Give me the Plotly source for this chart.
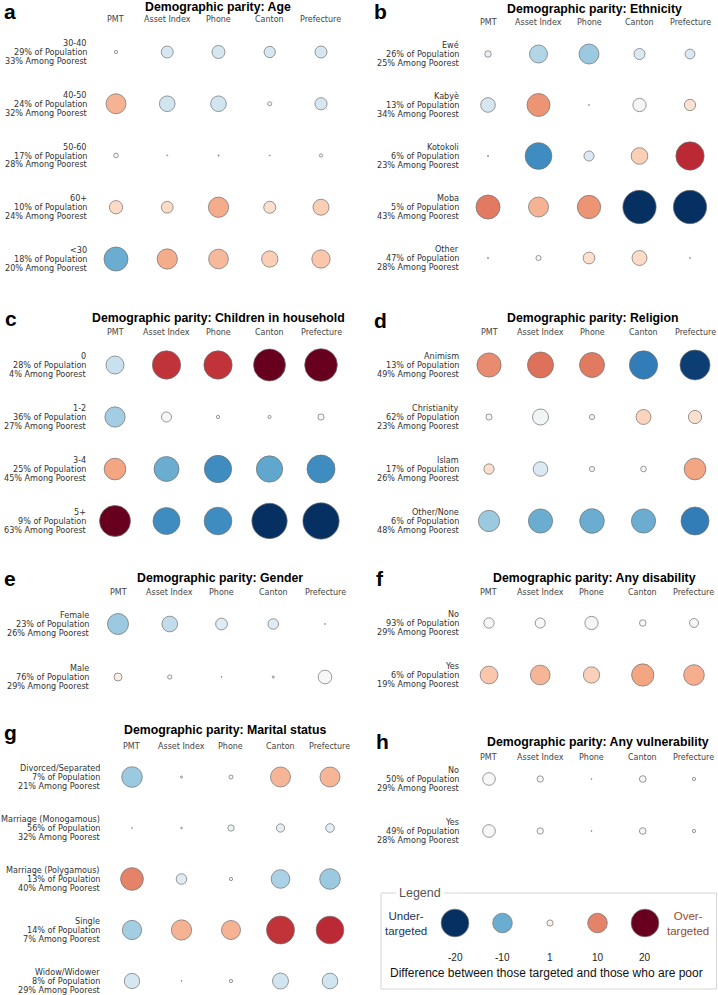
import numpy as np
import plotly.graph_objects as go
import plotly.express as px

W, H = 718, 995

methods = ["PMT", "Asset Index", "Phone", "Canton", "Prefecture"]

# --- a: Age ---
age_groups = ["30-40", "40-50", "50-60", "60+", "<30"]
age_pop = [29, 24, 17, 10, 18]
age_poor = [33, 32, 28, 24, 20]
age_gap = [[0.2, -2.7, -3.2, -2.4, -2.7],
           [7.5, -4.6, -4.6, 0.3, -2.8],
           [0.4, 0.02, 0.03, 0.0, 0.2],
           [3.3, 2.6, 7.7, 2.7, 4.8],
           [-10.8, 7.7, 7.3, 5.0, 6.3]]
age_tone = [[0, -3.5, -3.5, -3.5, -3.5],
            [7, -4, -4, 0, -3.5],
            [0, 0, 0, 0, 0],
            [4, 4, 7.5, 3.5, 5],
            [-10, 7.5, 6.5, 5, 5.5]]

# --- b: Ethnicity ---
eth_groups = ["Ewé", "Kabyè", "Kotokoli", "Moba", "Other"]
eth_pop = [26, 13, 6, 5, 47]
eth_poor = [25, 34, 23, 43, 28]
eth_gap = [[-0.8, -6.1, -7.5, -2.3, -1.8],
           [-4.0, 9.9, 0.02, -3.3, 2.4],
           [0.03, -13.4, -1.9, 5.2, 15.0],
           [10.8, 7.5, 10.2, -20.8, -20.8],
           [0.03, 0.5, 2.6, 4.2, 0.02]]
eth_tone = [[-1.5, -6, -7.5, -3, -3],
            [-3.5, 9, 0, -0.3, 3],
            [0, -12.5, -3, 5, 15],
            [10.5, 7, 9, -20, -20],
            [0, 0, 3.5, 4, 0]]

# --- c: Children in household ---
kid_groups = ["0", "1-2", "3-4", "5+"]
kid_pop = [28, 36, 25, 9]
kid_poor = [4, 27, 45, 63]
kid_gap = [[-6.1, 15.0, 15.0, 19.2, 20.0],
           [-7.7, 1.9, 0.2, 0.2, 0.7],
           [8.8, -11.7, -14.0, -13.0, -14.7],
           [18.0, -13.7, -14.4, -23.4, -24.7]]
kid_tone = [[-4.5, 14.5, 14.5, 20, 20],
            [-7, 0, 0, 0, 0],
            [8, -10, -12.5, -10.5, -12.5],
            [20, -12.5, -12.5, -20, -20]]

# --- d: Religion ---
rel_groups = ["Animism", "Christianity", "Islam", "Other/None"]
rel_pop = [13, 62, 17, 6]
rel_poor = [49, 23, 26, 48]
rel_gap = [[11.0, 12.7, 11.7, -15.0, -16.9],
           [-0.7, -4.8, 0.5, 4.2, 3.3],
           [2.0, -4.0, 0.5, 0.6, 8.8],
           [-8.5, -11.0, -11.4, -11.0, -14.7]]
rel_tone = [[9.5, 11, 10.5, -14, -19],
            [-0.5, -0.5, 0, 4.5, 3.5],
            [3.5, -3, 0, 0, 8],
            [-7.5, -10, -10, -10, -14]]

# --- e: Gender ---
sex_groups = ["Female", "Male"]
sex_pop = [23, 76]
sex_poor = [26, 29]
sex_gap = [[-8.3, -4.6, -2.6, -2.1, -0.02],
           [1.2, 0.35, 0.02, 0.08, -3.5]]
sex_tone = [[-7.5, -5, -2.5, -2.5, 0],
            [1.5, 0, 0, 0, 0]]

# --- f: Any disability ---
dis_groups = ["No", "Yes"]
dis_pop = [93, 6]
dis_poor = [29, 19]
dis_gap = [[-2.0, -1.9, -3.3, -0.8, -1.5],
           [5.9, 7.3, 5.0, 9.3, 8.0]]
dis_tone = [[0, 0, -0.3, 0, 0],
            [5.5, 6.8, 4.8, 8, 7.3]]

# --- g: Marital status ---
mar_groups = ["Divorced/Separated", "Marriage (Monogamous)", "Marriage (Polygamous)",
              "Single", "Widow/Widower"]
mar_pop = [7, 56, 13, 14, 8]
mar_poor = [21, 32, 40, 7, 29]
mar_gap = [[-8.0, 0.08, 0.3, 7.5, 7.5],
           [0.02, 0.05, -0.75, -1.3, -1.4],
           [9.7, -2.1, 0.2, -6.5, -8.0],
           [-7.0, 7.7, 6.8, 14.7, 14.4],
           [-4.4, 0.02, 0.2, -4.8, -4.6]]
mar_tone = [[-7.5, 0, 0, 6.8, 6.8],
            [0, 0, -1, -2, -2],
            [10, -2.5, 0, -6.5, -7.5],
            [-7, 7, 7, 14.5, 15],
            [-3.5, 0, 0, -4, -4]]

# --- h: Any vulnerability ---
vul_groups = ["No", "Yes"]
vul_pop = [50, 49]
vul_poor = [29, 28]
vul_gap = [[-3.0, 0.75, 0.02, 0.84, 0.2],
           [-3.0, 0.75, 0.02, -0.84, 0.2]]
vul_tone = [[0, 0.3, 0, 0.3, 0],
            [0, 0, 0, -0.3, 0]]

# --- legend ---
legend_values = [-20, -10, 1, 10, 20]

scale = px.colors.diverging.RdBu[::-1]
LABEL_FONT = "DejaVu Sans, sans-serif"
TITLE_FONT = "Liberation Sans, Arial, sans-serif"
LINE_STEP = 8.8  # px between the three lines of a row label

# letter, title, data, geometry (PMT x, col step, first row y, row step, label right, title x, title y, header y, letter x, letter y)
panels = [
    ("a", "Age", age_groups, age_pop, age_poor, age_gap, age_tone,
     (116, 51.25, 52, 51.75, 89, 218, 7, 20, 2, 12)),
    ("b", "Ethnicity", eth_groups, eth_pop, eth_poor, eth_gap, eth_tone,
     (488, 50.5, 54, 51, 461, 594, 9, 23, 372, 12)),
    ("c", "Children in household", kid_groups, kid_pop, kid_poor, kid_gap, kid_tone,
     (115, 51.5, 365, 52, 88, 218, 318, 333, 3, 318)),
    ("d", "Religion", rel_groups, rel_pop, rel_poor, rel_gap, rel_tone,
     (489, 51.5, 365, 52, 461, 593, 318, 333, 372, 320)),
    ("e", "Gender", sex_groups, sex_pop, sex_poor, sex_gap, sex_tone,
     (118, 51.75, 624, 53, 91, 220, 578, 592, 2, 578)),
    ("f", "Any disability", dis_groups, dis_pop, dis_poor, dis_gap, dis_tone,
     (489, 51.25, 623, 52, 461, 594, 578, 592, 374, 578)),
    ("g", "Marital status", mar_groups, mar_pop, mar_poor, mar_gap, mar_tone,
     (132, 49.5, 777, 51, 102, 225, 730, 746, 2, 732)),
    ("h", "Any vulnerability", vul_groups, vul_pop, vul_poor, vul_gap, vul_tone,
     (489, 51.25, 779, 52, 461, 598, 742, 757, 374, 741)),
]


def xp(p):
    return min(max(p / W, 0.0), 1.0)


def yp(p):
    return min(max(1 - p / H, 0.0), 1.0)


def diameter(v, k=7.3):
    return np.maximum(k * np.sqrt(np.abs(np.asarray(v, dtype=float))), 1.0)


fig = go.Figure()
annotations = []
layout_axes = {}

for k, (letter, name, groups, pop, poor, gap, tone, geo) in enumerate(panels, start=1):
    cx0, dx, y0, dy, lab_x, tx, ty, hy, lx, ly = geo
    n = len(groups)
    xs = [j for i in range(n) for j in range(5)]
    ys = [i for i in range(n) for j in range(5)]
    gap_flat = [gap[i][j] for i in range(n) for j in range(5)]
    tone_flat = [tone[i][j] for i in range(n) for j in range(5)]

    fig.add_trace(go.Scatter(
        x=xs, y=ys, mode="markers", xaxis=f"x{k}", yaxis=f"y{k}",
        cliponaxis=False, showlegend=False,
        customdata=gap_flat, hovertemplate="%{customdata:.1f}<extra></extra>",
        marker=dict(size=diameter(gap_flat), sizemode="diameter", color=tone_flat,
                    colorscale=scale, cmin=-20, cmax=20, opacity=1,
                    line=dict(color="#6f6f6f", width=0.7)),
    ))
    sfx = "" if k == 1 else str(k)
    pad = 0.25
    layout_axes[f"xaxis{sfx}"] = dict(
        domain=[xp(cx0 - pad * dx), xp(cx0 + (4 + pad) * dx)], range=[-pad, 4 + pad],
        visible=False, anchor=f"y{k}", fixedrange=True)
    layout_axes[f"yaxis{sfx}"] = dict(
        domain=[yp(y0 + (n - 1 + pad) * dy), yp(y0 - pad * dy)],
        range=[n - 1 + pad, -pad],
        visible=False, anchor=f"x{k}", fixedrange=True)

    # panel letter and title
    annotations.append(dict(x=xp(lx), y=yp(ly), xref="paper", yref="paper",
                            text=f"<b>{letter}</b>", showarrow=False,
                            xanchor="left", yanchor="middle",
                            font=dict(family=TITLE_FONT, size=21, color="black")))
    annotations.append(dict(x=xp(tx), y=yp(ty), xref="paper", yref="paper",
                            text=f"<b>Demographic parity: {name}</b>", showarrow=False,
                            xanchor="center", yanchor="middle",
                            font=dict(family=TITLE_FONT, size=12.3, color="black")))
    # column headers
    for j, m in enumerate(methods):
        annotations.append(dict(x=j, y=yp(hy), xref=f"x{k}", yref="paper",
                                text=m, showarrow=False, xanchor="center",
                                yanchor="middle",
                                font=dict(family=LABEL_FONT, size=8, color="#444")))
    # row labels, one annotation per line for tight line spacing
    for i, g in enumerate(groups):
        lines = [g, f"{pop[i]}% of Population", f"{poor[i]}% Among Poorest"]
        for li, line in enumerate(lines):
            annotations.append(dict(
                x=xp(lab_x), y=i, xref="paper", yref=f"y{k}", text=line,
                yshift=(1 - li) * LINE_STEP,
                showarrow=False, xanchor="right", yanchor="middle", align="right",
                font=dict(family=LABEL_FONT, size=8.1, color="#333")))

# --- legend panel ---
kL = len(panels) + 1
fig.add_trace(go.Scatter(
    x=list(range(len(legend_values))), y=[0] * len(legend_values), mode="markers",
    xaxis=f"x{kL}", yaxis=f"y{kL}", cliponaxis=False, showlegend=False,
    hoverinfo="skip",
    marker=dict(size=diameter(legend_values, 6.2), sizemode="diameter",
                color=legend_values, colorscale=scale, cmin=-20, cmax=20, opacity=1,
                line=dict(color="#6f6f6f", width=0.7)),
))
lcx0, ldx, lcy = 455, 47.5, 923
layout_axes[f"xaxis{kL}"] = dict(domain=[xp(lcx0 - 0.5 * ldx), xp(lcx0 + 4.5 * ldx)],
                                 range=[-0.5, 4.5], visible=False, anchor=f"y{kL}",
                                 fixedrange=True)
layout_axes[f"yaxis{kL}"] = dict(domain=[yp(lcy + 20), yp(lcy - 20)], range=[-1, 1],
                                 visible=False, anchor=f"x{kL}", fixedrange=True)
for j, v in enumerate(legend_values):
    annotations.append(dict(x=j, y=yp(957), xref=f"x{kL}", yref="paper", text=str(v),
                            showarrow=False, xanchor="center", yanchor="middle",
                            font=dict(family=TITLE_FONT, size=10, color="#222")))

legend_box = dict(type="rect", xref="paper", yref="paper",
                  x0=xp(381), x1=xp(716.5), y0=yp(989), y1=yp(893),
                  line=dict(color="#d6d6d6", width=1), fillcolor="rgba(0,0,0,0)")

annotations += [
    dict(x=xp(420), y=yp(893), xref="paper", yref="paper", text="Legend",
         showarrow=False, xanchor="center", yanchor="middle", bgcolor="white",
         borderpad=2, font=dict(family=TITLE_FONT, size=12.5, color="#555")),
    dict(x=xp(406), y=yp(923), xref="paper", yref="paper", text="Under-<br>targeted",
         showarrow=False, xanchor="center", yanchor="middle", align="center",
         font=dict(family=TITLE_FONT, size=11.5, color="#1c3461")),
    dict(x=xp(688), y=yp(923), xref="paper", yref="paper", text="Over-<br>targeted",
         showarrow=False, xanchor="center", yanchor="middle", align="center",
         font=dict(family=TITLE_FONT, size=11.5, color="#9a4a26")),
    dict(x=xp(546), y=yp(973), xref="paper", yref="paper",
         text="Difference between those targeted and those who are poor",
         showarrow=False, xanchor="center", yanchor="middle",
         font=dict(family=TITLE_FONT, size=12, color="#111")),
]

fig.update_layout(
    width=W, height=H,
    margin=dict(l=0, r=0, t=0, b=0),
    plot_bgcolor="white", paper_bgcolor="white",
    annotations=annotations,
    shapes=[legend_box],
    **layout_axes,
)

# the page's default body margin would push the figure 8px off the window
fig.write_html("out.html", config={"displayModeBar": False},
               post_script="document.body.style.margin='0';"
                           "document.body.style.overflow='hidden';")
